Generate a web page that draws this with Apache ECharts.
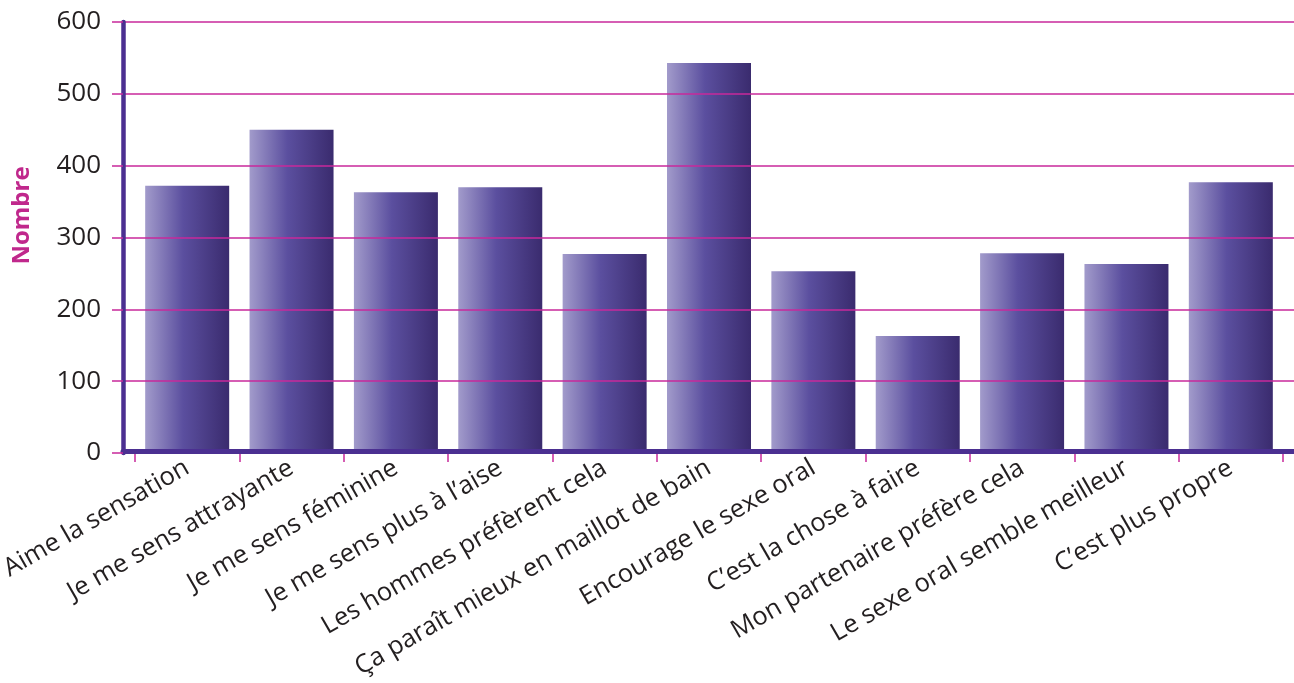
<!DOCTYPE html>
<html><head><meta charset="utf-8">
<script src="https://cdn.jsdelivr.net/npm/echarts@6/dist/echarts.min.js"></script>
<style>html,body{margin:0;padding:0;background:#fff}#c{width:1294px;height:683px}</style>
</head><body><div id="c"></div>
<script>
const categories = ["Aime la sensation","Je me sens attrayante","Je me sens féminine","Je me sens plus à l’aise","Les hommes préfèrent cela","Ça paraît mieux en maillot de bain","Encourage le sexe oral","C’est la chose à faire","Mon partenaire préfère cela","Le sexe oral semble meilleur","C’est plus propre"];
const values = [372, 450, 363, 370, 277, 543, 253, 163, 278, 263, 377];
const yTicks = [0, 100, 200, 300, 400, 500, 600];

const chart = echarts.init(document.getElementById('c'));
const font = '"Open Sans", "Noto Sans", sans-serif';
const barGrad = new echarts.graphic.LinearGradient(0,0,1,0,[
  {offset:0,color:'#a29bcb'},{offset:0.45,color:'#5b4f9f'},{offset:1,color:'#3a2b6e'}]);
chart.setOption({
  animation:false,
  grid:[
    {left:123,right:0,top:22,bottom:230,outerBoundsMode:'none',containLabel:false},
    {left:135,right:11,top:22,bottom:230,outerBoundsMode:'none',containLabel:false}
  ],
  xAxis:[
    {gridIndex:0,type:'value',min:0,max:1,offset:-2,axisLine:{show:true,onZero:false,lineStyle:{color:'#4b2f91',width:5}},
     axisTick:{show:false},axisLabel:{show:false},splitLine:{show:false},z:5},
    {gridIndex:1,type:'category',data:categories,boundaryGap:true,
     axisLine:{show:false},
     axisTick:{show:true,length:9,lineStyle:{color:'#c8289b',width:1.5}},
     axisLabel:{rotate:30,margin:13,fontSize:25.5,color:'#231f20',fontFamily:font,interval:0}}
  ],
  yAxis:[
    {gridIndex:0,type:'value',min:yTicks[0],max:yTicks[yTicks.length-1],interval:100,
     name:'Nombre',nameLocation:'middle',nameGap:89,nameRotate:90,
     nameTextStyle:{color:'#c0288c',fontSize:24,fontWeight:'bold',fontFamily:font,padding:[0,0,0,44]},
     axisLine:{show:true,onZero:false,lineStyle:{color:'#4b2f91',width:4.5}},
     axisTick:{show:true,length:11,lineStyle:{color:'#c8289b',width:1.5}},
     axisLabel:{fontSize:26,color:'#231f20',fontFamily:font,margin:22},
     splitLine:{show:true,lineStyle:{color:'#c8289b',width:1.6}},z:5},
    {gridIndex:1,type:'value',min:yTicks[0],max:yTicks[yTicks.length-1],interval:100,show:false}
  ],
  series:[{type:'bar',xAxisIndex:1,yAxisIndex:1,data:values,barWidth:84,
    itemStyle:{color:barGrad},z:3}]
});
</script></body></html>
